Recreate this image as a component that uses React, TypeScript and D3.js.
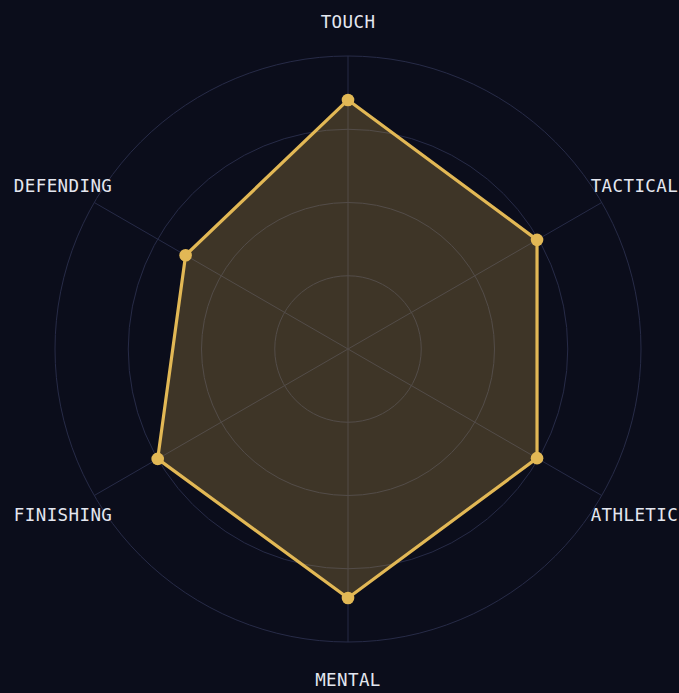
import React from "react";
import * as d3 from "d3";

const axes = ["TOUCH", "TACTICAL", "ATHLETIC", "MENTAL", "FINISHING", "DEFENDING"];
const values = [85, 74.5, 74.5, 85, 75, 64];
const ringTicks = [25, 50, 75, 100];

const W = 679;
const H = 693;
const cx = 348;
const cy = 349;
const R = 293;

export default function App() {
  const r = d3.scaleLinear().domain([0, 100]).range([0, R]);
  const angle = (i: number) => (i * 2 * Math.PI) / axes.length;
  const pt = (i: number, v: number): [number, number] => [
    Math.sin(angle(i)) * r(v),
    -Math.cos(angle(i)) * r(v),
  ];
  const line = d3
    .lineRadial<number>()
    .angle((_, i) => angle(i))
    .radius((d) => r(d))
    .curve(d3.curveLinearClosed);
  const labelR = R + 36;
  return (
    <div style={{ position: "fixed", inset: 0, background: "#0b0d1b" }}>
      <svg width={W} height={H} style={{ display: "block" }}>
        <rect width={W} height={H} fill="#0b0d1b" />
        <g transform={`translate(${cx},${cy})`}>
          {ringTicks.map((t) => (
            <circle key={t} r={r(t)} fill="none" stroke="#272b47" strokeWidth={1} />
          ))}
          {axes.map((a, i) => {
            const [x, y] = pt(i, 100);
            return <line key={a} x1={0} y1={0} x2={x} y2={y} stroke="#272b47" strokeWidth={1} />;
          })}
          <path
            d={line(values) || ""}
            fill="#e3b94f"
            fillOpacity={0.24}
            stroke="#e2b855"
            strokeWidth={3.2}
            strokeLinejoin="round"
          />
          {values.map((v, i) => {
            const [x, y] = pt(i, v);
            return <circle key={i} cx={x} cy={y} r={6.3} fill="#e2b855" />;
          })}
          {axes.map((a, i) => {
            const x = Math.sin(angle(i)) * labelR;
            const y = -Math.cos(angle(i)) * labelR + 1.5;
            return (
              <text
                key={a}
                x={x + (Math.sin(angle(i)) > 0.1 ? 1.5 : 0)}
                y={y}
                textAnchor="middle"
                dominantBaseline="central"
                fill="#e4e7f0"
                fontFamily="'DejaVu Sans Mono', monospace"
                fontSize={17.5}
                letterSpacing={0.4}
              >
                {a}
              </text>
            );
          })}
        </g>
      </svg>
    </div>
  );
}
